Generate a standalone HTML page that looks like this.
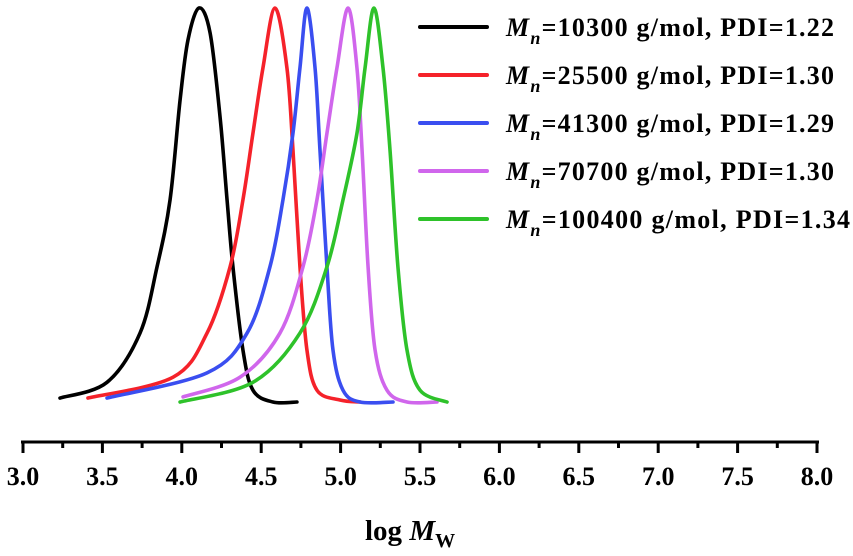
<!DOCTYPE html>
<html><head><meta charset="utf-8"><style>
html,body{margin:0;padding:0;background:#fff;}
svg{display:block;font-family:"Liberation Serif",serif;font-weight:bold;}
</style></head><body>
<svg id="chart" width="853" height="556" viewBox="0 0 853 556">
<g id="axis"></g>
<g id="curves"></g>
<g id="legend"></g>
<text x="365" y="540" font-size="29">log <tspan font-style="italic">M</tspan><tspan font-size="20" dy="7">W</tspan></text>
</svg>
<script>
const xTicks=[3.0,3.5,4.0,4.5,5.0,5.5,6.0,6.5,7.0,7.5,8.0];
const seriesLabels=["10300 g/mol, PDI=1.22","25500 g/mol, PDI=1.30","41300 g/mol, PDI=1.29","70700 g/mol, PDI=1.30","100400 g/mol, PDI=1.34"];
const seriesColors=["#000000","#f5222a","#3a4ef0","#d066ec","#2ec22a"];
const blackX=[3.233,3.529,3.737,3.844,3.926,3.989,4.039,4.108,4.178,4.241,4.285,4.322,4.385,4.448,4.574,4.725];
const blackY=[0.01,0.05,0.175,0.343,0.513,0.766,0.919,1,0.937,0.723,0.513,0.343,0.132,0.03,0,0];
const redX=[3.409,3.945,4.159,4.304,4.385,4.448,4.511,4.587,4.662,4.700,4.744,4.788,4.851,4.996,5.122];
const redY=[0.01,0.063,0.175,0.343,0.513,0.682,0.848,1,0.848,0.640,0.343,0.132,0.03,0.005,0];
const blueX=[3.529,4.159,4.411,4.555,4.637,4.700,4.744,4.788,4.839,4.870,4.914,4.952,5.015,5.122,5.330];
const blueY=[0.01,0.074,0.175,0.343,0.513,0.682,0.848,1,0.848,0.640,0.343,0.132,0.03,0,0];
const magentaX=[4.008,4.367,4.618,4.763,4.851,4.914,4.977,5.047,5.103,5.135,5.173,5.217,5.292,5.418,5.607];
const magentaY=[0.013,0.063,0.175,0.343,0.513,0.682,0.848,1,0.848,0.640,0.343,0.132,0.03,0,0];
const greenX=[3.989,4.448,4.744,4.914,5.015,5.103,5.154,5.210,5.267,5.311,5.361,5.418,5.500,5.670];
const greenY=[0,0.05,0.175,0.343,0.513,0.682,0.848,1,0.848,0.640,0.343,0.132,0.03,0];
const NS="http://www.w3.org/2000/svg";
const xS=v=>23+(v-3)*158.8;
const yS=v=>402-v*394;
function mk(t,a,p){const e=document.createElementNS(NS,t);for(const k in a)e.setAttribute(k,a[k]);p.appendChild(e);return e;}
const ax=document.getElementById('axis');
let l=mk('line',{x1:21,y1:442,x2:819,y2:442,stroke:'#000','stroke-width':3},ax);


for(let i=0;i<xTicks.length;i++){
  const x=xS(xTicks[i]);
  const t=mk('line',{x1:x,y1:441,x2:x,y2:453,stroke:'#000','stroke-width':3},ax);
  
  
  const lb=mk('text',{x:x,y:485,'text-anchor':'middle','font-size':26},ax);
  lb.textContent=xTicks[i].toFixed(1);
  
  
  if(i<xTicks.length-1){
    const m=xS(xTicks[i]+0.25);
    const mt=mk('line',{x1:m,y1:441,x2:m,y2:448,stroke:'#000','stroke-width':3},ax);
    
    
  }
}
function pathD(X,Y){
  const p=X.map((x,i)=>[xS(x),yS(Y[i])]);
  let d='M'+p[0][0]+','+p[0][1];
  for(let i=0;i<p.length-1;i++){
    const p0=p[Math.max(0,i-1)],p1=p[i],p2=p[i+1],p3=p[Math.min(p.length-1,i+2)];
    const c1=[p1[0]+(p2[0]-p0[0])/6,p1[1]+(p2[1]-p0[1])/6];
    const c2=[p2[0]-(p3[0]-p1[0])/6,p2[1]-(p3[1]-p1[1])/6];
    d+=' C'+c1+' '+c2+' '+p2;
  }
  return d;
}
const cv=document.getElementById('curves');
const all=[[blackX,blackY],[redX,redY],[blueX,blueY],[magentaX,magentaY],[greenX,greenY]];
const names=['curve-10300','curve-25500','curve-41300','curve-70700','curve-100400'];
all.forEach((s,i)=>{
  const p=mk('path',{d:pathD(s[0],s[1]),fill:'none',stroke:seriesColors[i],'stroke-width':3.6,'stroke-linecap':'round','stroke-linejoin':'round'},cv);
  
  
});
const lg=document.getElementById('legend');
const ly=[27,75,123,171,219];
seriesLabels.forEach((s,i)=>{
  const g=mk('g',{},lg);
  
  
  mk('line',{x1:420,y1:ly[i],x2:487,y2:ly[i],stroke:seriesColors[i],'stroke-width':4,'stroke-linecap':'round'},g);
  const t=mk('text',{x:506,y:ly[i]+9,'font-size':26,textLength:(i===4?344:328),lengthAdjust:'spacing'},g);
  t.innerHTML='<tspan font-style="italic">M</tspan><tspan font-style="italic" font-size="18" dy="8">n</tspan><tspan dy="-8">='+s+'</tspan>';
});
</script>
</body></html>
